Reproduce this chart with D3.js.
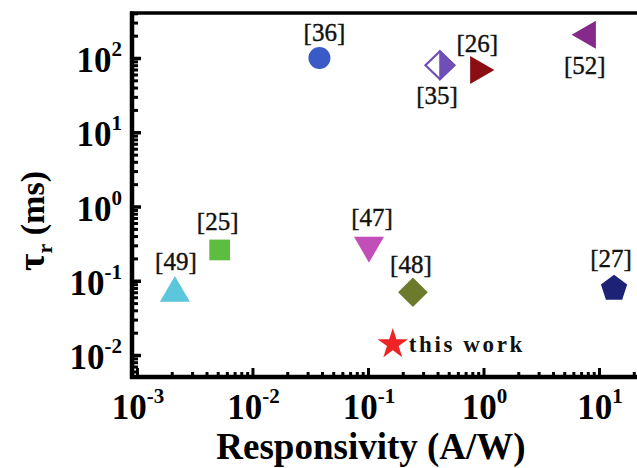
<!DOCTYPE html>
<html><head><meta charset="utf-8">
<script src="https://cdn.jsdelivr.net/npm/d3@7"></script>
<style>body{margin:0;background:#fff}svg{display:block}svg text{font-family:"Liberation Serif","Times New Roman",serif}</style>
</head><body><svg id="c" width="637" height="468"></svg>
<script>
// ---- data ----
const refs = ["[36]", "[35]", "[26]", "[52]", "[25]", "[49]", "[47]", "[48]", "[27]", "this work"];
const responsivity = [0.038, 0.42, 0.9, 8.0, 0.0052, 0.00213, 0.102, 0.245, 13.5, 0.164]; // A/W
const riseTime = [100, 80, 69, 205, 0.26, 0.068, 0.30, 0.07, 0.082, 0.014];               // ms
const xTickExps = [-3, -2, -1, 0, 1];
const yTickExps = [-2, -1, 0, 1, 2];

// ---- style ----
const shapes = ["circle", "halfDiamond", "triRight", "triLeft", "square", "triUp", "triDown", "diamond", "pentagon", "star"];
const colors = ["#3a5ac8", "#6e4fb8", "#8a0f12", "#842a8a", "#5cbd3e", "#5cc6dc", "#c24fb8", "#6c7a2c", "#1e2277", "#ee2326"];
const labelDx = [5, -3, -1, -3, -2, 1, 3, -2, -3, 16];
const labelDy = [-26, 30, -27, 30, -29, -32, -28, -28, -29, 0];

const svg = d3.select("#c");

const x = d3.scaleLog().domain([Math.pow(10, -3.043), Math.pow(10, 1.4)]).range([132, 645.2]);
const y = d3.scaleLog().domain([Math.pow(10, -2.296), Math.pow(10, 2.606)]).range([377, 13]);

// minor tick values
const minorX = [], minorY = [];
for (let e = -4; e <= 2; e++) for (let m = 2; m <= 9; m++) {
  const v = m * Math.pow(10, e);
  if (v > x.domain()[0] && v < x.domain()[1]) minorX.push(v);
  if (v > y.domain()[0] && v < y.domain()[1]) minorY.push(v);
}
const majorX = xTickExps.map(e => Math.pow(10, e));
const majorY = yTickExps.map(e => Math.pow(10, e));

function styleAxis(g, w) {
  g.select(".domain").remove();
  g.selectAll(".tick line").attr("stroke", "#000").attr("stroke-width", w);
  g.selectAll(".tick text").remove();
}
// bottom axis ticks (inward)
svg.append("g").attr("transform", "translate(0,377)")
  .call(d3.axisBottom(x).tickValues(minorX).tickSize(-5).tickFormat(""))
  .call(g => styleAxis(g, 3));
svg.append("g").attr("transform", "translate(0,377)")
  .call(d3.axisBottom(x).tickValues(majorX).tickSize(-9).tickFormat(""))
  .call(g => styleAxis(g, 3));
// left axis ticks (inward)
svg.append("g").attr("transform", "translate(132,0)")
  .call(d3.axisLeft(y).tickValues(minorY).tickSize(-6).tickFormat(""))
  .call(g => styleAxis(g, 3));
svg.append("g").attr("transform", "translate(132,0)")
  .call(d3.axisLeft(y).tickValues(majorY).tickSize(-9).tickFormat(""))
  .call(g => styleAxis(g, 3.5));

// frame
const [x0, x1] = x.range(), [yb, yt] = y.range();
svg.append("line").attr("x1", x0 - 2).attr("x2", x1).attr("y1", yt).attr("y2", yt).attr("stroke", "#000").attr("stroke-width", 3.5);
svg.append("line").attr("x1", x0 - 2).attr("x2", x1).attr("y1", yb).attr("y2", yb).attr("stroke", "#000").attr("stroke-width", 4.5);
svg.append("line").attr("x1", x0).attr("x2", x0).attr("y1", yt - 1.5).attr("y2", yb + 2).attr("stroke", "#000").attr("stroke-width", 4.5);
svg.append("line").attr("x1", x1).attr("x2", x1).attr("y1", yt - 1.5).attr("y2", yb + 2).attr("stroke", "#000").attr("stroke-width", 4);

// tick labels
function powLabel(sel, e) {
  sel.append("tspan").text("10");
  sel.append("tspan").attr("font-size", 21).attr("dy", -16).text(String(e));
}
xTickExps.forEach(e => {
  const t = svg.append("text").attr("x", x(Math.pow(10, e)) + 1).attr("y", 419)
    .attr("text-anchor", "middle").attr("font-weight", "bold")
    .attr("font-size", 35).attr("fill", "#000");
  powLabel(t, e);
});
yTickExps.forEach(e => {
  const t = svg.append("text").attr("x", 122).attr("y", y(Math.pow(10, e)) + 14)
    .attr("text-anchor", "end").attr("font-weight", "bold")
    .attr("font-size", 35).attr("fill", "#000");
  powLabel(t, e);
});

// axis titles
svg.append("text").attr("x", 371).attr("y", 459).attr("text-anchor", "middle")
  .attr("font-weight", "bold").attr("font-size", 37).attr("fill", "#000")
  .text("Responsivity (A/W)");
const yt2 = svg.append("text").attr("transform", "translate(44,221) rotate(-90)")
  .attr("text-anchor", "middle").attr("font-weight", "bold")
  .attr("font-size", 34).attr("fill", "#000");
yt2.append("tspan").attr("font-size", 38).text("τ");
yt2.append("tspan").attr("font-size", 22).attr("dy", 8).text("r");
yt2.append("tspan").attr("dy", -8).text(" (ms)");

// markers
const tri = d3.symbol().type(d3.symbolTriangle);
function markerPath(shape) {
  switch (shape) {
    case "circle": return d3.symbol().type(d3.symbolCircle).size(380)();
    case "square": return d3.symbol().type(d3.symbolSquare).size(430)();
    case "diamond": return d3.symbol().type(d3.symbolSquare).size(440)();
    case "star": return d3.symbol().type(d3.symbolStar).size(290)();
    case "triUp": case "triDown": return tri.size(390)();
    case "triRight": case "triLeft": return tri.size(340)();
    case "pentagon": {
      const r = 13.8;
      const pts = d3.range(5).map(i => { const a = -Math.PI / 2 + i * 2 * Math.PI / 5; return [r * Math.cos(a), r * Math.sin(a) + 1.5]; });
      return d3.line()(pts) + "Z";
    }
  }
}
const rot = { triDown: 180, triRight: 90, triLeft: -90, diamond: 45 };

const pts = refs.map((r, i) => ({ ref: r, x: responsivity[i], y: riseTime[i], shape: shapes[i], color: colors[i], dx: labelDx[i], dy: labelDy[i] }));

pts.forEach(d => {
  const g = svg.append("g").attr("transform", `translate(${x(d.x)},${y(d.y)})`);
  if (d.shape === "halfDiamond") {
    const w = 14.5, h = 14;
    g.append("path").attr("d", d3.line()([[0, -h], [w, 0], [0, h], [-w, 0]]) + "Z")
      .attr("fill", "#fff").attr("stroke", d.color).attr("stroke-width", 2.2);
    g.append("path").attr("d", d3.line()([[0, -h], [w, 0], [0, h]]) + "Z")
      .attr("fill", d.color).attr("stroke", d.color).attr("stroke-width", 1.5);
  } else {
    g.append("path").attr("d", markerPath(d.shape))
      .attr("transform", rot[d.shape] ? `rotate(${rot[d.shape]})` : null)
      .attr("fill", d.color);
  }
  const isWork = d.ref === "this work";
  svg.append("text")
    .attr("x", x(d.x) + d.dx).attr("y", y(d.y) + d.dy).attr("dy", "0.35em")
    .attr("text-anchor", isWork ? "start" : "middle")
    .attr("font-weight", isWork ? "bold" : "normal")
    .attr("font-size", isWork ? 23 : 25)
    .attr("letter-spacing", isWork ? 2.6 : 0)
    .attr("fill", "#111")
    .attr("stroke", "#111").attr("stroke-width", isWork ? 0 : 0.4)
    .text(d.ref);
});
</script>
</body></html>
